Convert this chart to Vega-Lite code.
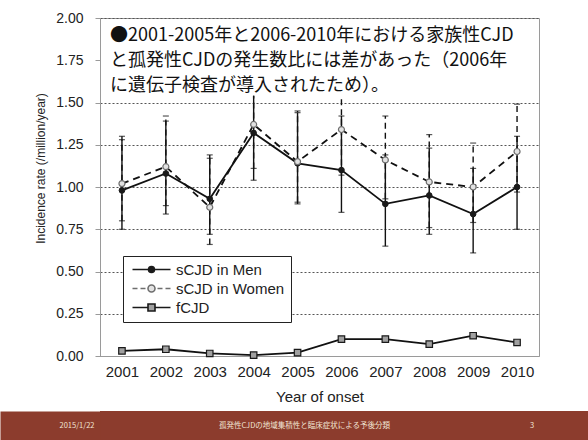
{
  "$schema": "https://vega.github.io/schema/vega-lite/v6.json",
  "background": "white",
  "padding": {"left": 0, "right": 0, "top": 10, "bottom": 0},
  "spacing": 6,
  "columns": 1,
  "config": {
    "font": "Liberation Sans",
    "view": {"stroke": null},
    "axis": {
      "labelColor": "#222",
      "titleColor": "#222",
      "titleFontWeight": "normal",
      "domainColor": "#9a9a9a",
      "tickColor": "#9a9a9a"
    }
  },
  "datasets": {
    "rates": [
      {"year": "2001", "series": "sCJD in Men", "rate": 0.98, "lo": 0.75, "hi": 1.28},
      {"year": "2002", "series": "sCJD in Men", "rate": 1.08, "lo": 0.84, "hi": 1.39},
      {"year": "2003", "series": "sCJD in Men", "rate": 0.93, "lo": 0.72, "hi": 1.19},
      {"year": "2004", "series": "sCJD in Men", "rate": 1.32, "lo": 1.04, "hi": 1.54},
      {"year": "2005", "series": "sCJD in Men", "rate": 1.14, "lo": 0.90, "hi": 1.44},
      {"year": "2006", "series": "sCJD in Men", "rate": 1.10, "lo": 0.85, "hi": 1.42},
      {"year": "2007", "series": "sCJD in Men", "rate": 0.90, "lo": 0.65, "hi": 1.19},
      {"year": "2008", "series": "sCJD in Men", "rate": 0.95, "lo": 0.72, "hi": 1.23},
      {"year": "2009", "series": "sCJD in Men", "rate": 0.84, "lo": 0.61, "hi": 1.11},
      {"year": "2010", "series": "sCJD in Men", "rate": 1.00, "lo": 0.75, "hi": 1.30},
      {"year": "2001", "series": "sCJD in Women", "rate": 1.02, "lo": 0.80, "hi": 1.30},
      {"year": "2002", "series": "sCJD in Women", "rate": 1.12, "lo": 0.89, "hi": 1.42},
      {"year": "2003", "series": "sCJD in Women", "rate": 0.88, "lo": 0.66, "hi": 1.17},
      {"year": "2004", "series": "sCJD in Women", "rate": 1.37, "lo": 1.11, "hi": 1.54},
      {"year": "2005", "series": "sCJD in Women", "rate": 1.15, "lo": 0.91, "hi": 1.45},
      {"year": "2006", "series": "sCJD in Women", "rate": 1.34, "lo": 1.07, "hi": 1.53},
      {"year": "2007", "series": "sCJD in Women", "rate": 1.16, "lo": 0.93, "hi": 1.42},
      {"year": "2008", "series": "sCJD in Women", "rate": 1.03, "lo": 0.76, "hi": 1.31},
      {"year": "2009", "series": "sCJD in Women", "rate": 1.00, "lo": 0.79, "hi": 1.26},
      {"year": "2010", "series": "sCJD in Women", "rate": 1.21, "lo": 0.97, "hi": 1.49},
      {"year": "2001", "series": "fCJD", "rate": 0.03},
      {"year": "2002", "series": "fCJD", "rate": 0.04},
      {"year": "2003", "series": "fCJD", "rate": 0.015},
      {"year": "2004", "series": "fCJD", "rate": 0.005},
      {"year": "2005", "series": "fCJD", "rate": 0.02},
      {"year": "2006", "series": "fCJD", "rate": 0.10},
      {"year": "2007", "series": "fCJD", "rate": 0.10},
      {"year": "2008", "series": "fCJD", "rate": 0.07},
      {"year": "2009", "series": "fCJD", "rate": 0.12},
      {"year": "2010", "series": "fCJD", "rate": 0.08}
    ],
    "footer": [
      {"text": "2015/1/22"},
      {"text": "孤発性CJDの地域集積性と臨床症状による予後分類"},
      {"text": "3"}
    ]
  },
  "concat": [
    {
      "width": 439,
      "height": 338,
      "view": {"stroke": "#9a9a9a", "strokeWidth": 1},
      "title": {
        "text": [
          "●2001-2005年と2006-2010年における家族性CJD",
          "と孤発性CJDの発生数比には差があった（2006年",
          "に遺伝子検査が導入されたため）。"
        ],
        "anchor": "start",
        "frame": "group",
        "orient": "top",
        "offset": -84,
        "dx": 10,
        "baseline": "top",
        "font": "Noto Sans CJK JP",
        "fontSize": 18,
        "fontWeight": "normal",
        "color": "#111",
        "lineHeight": 25
      },
      "data": {"name": "rates"},
      "resolve": {"axis": {"y": "independent"}},
      "layer": [
        {
          "layer": [
            {
              "transform": [{"filter": "datum.series == 'sCJD in Men'"}],
              "mark": {"type": "rule", "color": "#111", "strokeWidth": 1.4},
              "encoding": {
                "x": {
                  "field": "year", "type": "ordinal", "title": "Year of onset",
                  "scale": {"type": "point", "padding": 0.5},
                  "axis": {"labelFontSize": 15, "labelPadding": 8, "ticks": false, "titleFontSize": 15, "titlePadding": 10, "labelAngle": 0}
                },
                "y": {
                  "field": "lo", "type": "quantitative", "title": "Incidence rate (/million/year)",
                  "scale": {"domain": [0, 2], "nice": false, "zero": true},
                  "axis": {
                    "values": [0, 0.25, 0.5, 0.75, 1, 1.25, 1.5, 1.75, 2],
                    "format": ".2f",
                    "labelFontSize": 14,
                    "labelPadding": 12,
                    "tickSize": 5,
                    "titleFontSize": 12,
                    "titlePadding": 8,
                    "titleY": 150,
                    "grid": true,
                    "gridColor": "#555",
                    "gridDash": [2, 2],
                    "gridWidth": 1,
                    "gridOpacity": {"condition": {"test": "datum.value == 1.75", "value": 0}, "value": 1}
                  }
                },
                "y2": {"field": "hi"}
              }
            },
            {
              "transform": [{"filter": "datum.series == 'sCJD in Women'"}],
              "mark": {"type": "rule", "color": "#111", "strokeWidth": 1.4, "strokeDash": [6, 4]},
              "encoding": {
                "x": {"field": "year", "type": "ordinal", "title": "Year of onset"},
                "y": {"field": "lo", "type": "quantitative", "title": "Incidence rate (/million/year)"},
                "y2": {"field": "hi"}
              }
            },
            {
              "transform": [{"filter": "isValid(datum.lo)"}],
              "mark": {"type": "tick", "orient": "horizontal", "size": 6, "thickness": 1.2, "color": "#111"},
              "encoding": {
                "x": {"field": "year", "type": "ordinal", "title": "Year of onset"},
                "y": {"field": "lo", "type": "quantitative", "title": "Incidence rate (/million/year)"}
              }
            },
            {
              "transform": [{"filter": "isValid(datum.hi) && datum.hi < 1.52"}],
              "mark": {"type": "tick", "orient": "horizontal", "size": 6, "thickness": 1.2, "color": "#111"},
              "encoding": {
                "x": {"field": "year", "type": "ordinal", "title": "Year of onset"},
                "y": {"field": "hi", "type": "quantitative", "title": "Incidence rate (/million/year)"}
              }
            },
            {
              "transform": [{"filter": "datum.series == 'sCJD in Men'"}],
              "mark": {"type": "line", "color": "#111", "strokeWidth": 1.8},
              "encoding": {
                "x": {"field": "year", "type": "ordinal", "title": "Year of onset"},
                "y": {"field": "rate", "type": "quantitative", "title": "Incidence rate (/million/year)"}
              }
            },
            {
              "transform": [{"filter": "datum.series == 'sCJD in Women'"}],
              "mark": {"type": "line", "color": "#111", "strokeWidth": 1.8, "strokeDash": [7, 5]},
              "encoding": {
                "x": {"field": "year", "type": "ordinal", "title": "Year of onset"},
                "y": {"field": "rate", "type": "quantitative", "title": "Incidence rate (/million/year)"}
              }
            },
            {
              "transform": [{"filter": "datum.series == 'fCJD'"}],
              "mark": {"type": "line", "color": "#111", "strokeWidth": 1.8},
              "encoding": {
                "x": {"field": "year", "type": "ordinal", "title": "Year of onset"},
                "y": {"field": "rate", "type": "quantitative", "title": "Incidence rate (/million/year)"}
              }
            },
            {
              "transform": [{"filter": "datum.series == 'sCJD in Men'"}],
              "mark": {"type": "point", "shape": "circle", "size": 32, "filled": true, "fill": "#1a1a1a", "stroke": "#1a1a1a", "strokeWidth": 1, "opacity": 1},
              "encoding": {
                "x": {"field": "year", "type": "ordinal", "title": "Year of onset"},
                "y": {"field": "rate", "type": "quantitative", "title": "Incidence rate (/million/year)"}
              }
            },
            {
              "transform": [{"filter": "datum.series == 'sCJD in Women'"}],
              "mark": {"type": "point", "shape": "circle", "size": 36, "filled": true, "fill": "#e2e2e2", "stroke": "#6e6e6e", "strokeWidth": 1.2, "opacity": 1},
              "encoding": {
                "x": {"field": "year", "type": "ordinal", "title": "Year of onset"},
                "y": {"field": "rate", "type": "quantitative", "title": "Incidence rate (/million/year)"}
              }
            },
            {
              "transform": [{"filter": "datum.series == 'fCJD'"}],
              "mark": {"type": "point", "shape": "square", "size": 42, "filled": true, "fill": "#a0a0a0", "stroke": "#1a1a1a", "strokeWidth": 1.2, "opacity": 1},
              "encoding": {
                "x": {"field": "year", "type": "ordinal", "title": "Year of onset"},
                "y": {"field": "rate", "type": "quantitative", "title": "Incidence rate (/million/year)"}
              }
            },
            {
              "mark": {"type": "point", "opacity": 0, "filled": true},
              "encoding": {
                "x": {"field": "year", "type": "ordinal", "title": "Year of onset"},
                "y": {"field": "rate", "type": "quantitative", "title": "Incidence rate (/million/year)"},
                "shape": {
                  "field": "series", "type": "nominal",
                  "scale": {
                    "domain": ["sCJD in Men", "sCJD in Women", "fCJD"],
                    "range": [
                      "M-3.8,0H-0.6M0.6,0H3.8M0.6,0A0.6,0.6,0,1,1,-0.6,0A0.6,0.6,0,1,1,0.6,0Z",
                      "M-3.8,0H-2.8M-2.2,0H-1.2M1.2,0H2.2M2.8,0H3.8M0.7,0A0.7,0.7,0,1,1,-0.7,0A0.7,0.7,0,1,1,0.7,0Z",
                      "M-3.8,0H-0.7M0.7,0H3.8M-0.7,-0.7H0.7V0.7H-0.7Z"
                    ]
                  },
                  "legend": {
                    "title": null,
                    "orient": "none",
                    "legendX": 23,
                    "legendY": 238,
                    "padding": 6,
                    "fillColor": "white",
                    "strokeColor": "#222",
                    "labelFontSize": 15,
                    "labelFont": "Liberation Sans",
                    "labelColor": "#222",
                    "labelExpr": "datum.label + '\u00a0\u00a0'",
                    "symbolSize": 100,
                    "symbolStrokeWidth": 1.6,
                    "symbolOpacity": 1,
                    "symbolOffset": 15,
                    "labelOffset": 17,
                    "rowPadding": 3
                  }
                },
                "fill": {
                  "field": "series", "type": "nominal",
                  "scale": {"domain": ["sCJD in Men", "sCJD in Women", "fCJD"], "range": ["#1a1a1a", "#e2e2e2", "#a0a0a0"]}
                },
                "stroke": {
                  "field": "series", "type": "nominal",
                  "scale": {"domain": ["sCJD in Men", "sCJD in Women", "fCJD"], "range": ["#1a1a1a", "#6e6e6e", "#1a1a1a"]}
                }
              }
            }
          ]
        },
        {
          "mark": {"type": "point", "opacity": 0},
          "encoding": {
            "x": {"field": "year", "type": "ordinal", "title": "Year of onset"},
            "y": {
              "field": "rate", "type": "quantitative",
              "axis": {"orient": "left", "title": null, "grid": false, "ticks": false, "domain": false, "values": [0, 2], "format": ".2f", "labelFontSize": 5, "labelPadding": 89, "labelColor": "transparent"}
            }
          }
        }
      ]
    },
    {
      "width": 488,
      "height": 30,
      "view": {"fill": "#8c3c2d", "stroke": null},
      "data": {"name": "footer"},
      "mark": {"type": "text", "font": "Noto Sans CJK JP", "fontSize": 7.5, "color": "#f2e4d4"},
      "encoding": {
        "x": {"field": "text", "type": "nominal", "sort": null, "scale": {"type": "point", "padding": 0, "range": [-23, 432]}, "axis": null},
        "y": {
          "datum": 0.5, "type": "quantitative",
          "scale": {"domain": [0, 1]},
          "axis": {"orient": "left", "domain": true, "domainColor": "#8c3c2d", "domainWidth": 100, "domainCap": "butt", "offset": 50, "labels": false, "ticks": false, "grid": false, "title": null}
        },
        "text": {"field": "text"}
      }
    }
  ]
}
